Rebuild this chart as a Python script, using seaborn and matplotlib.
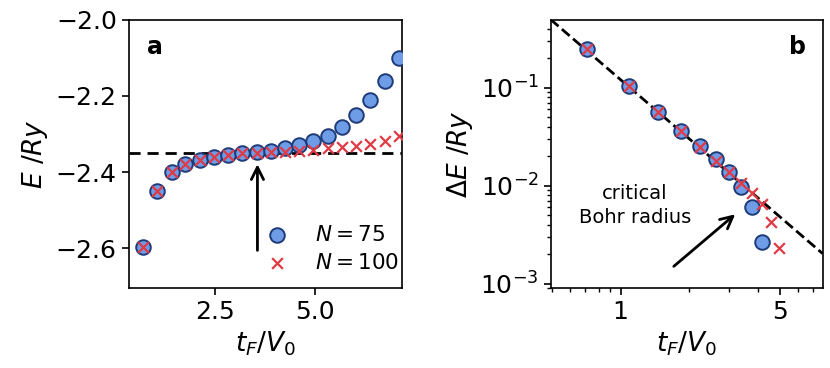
import numpy as np
import pandas as pd
import seaborn as sns
import matplotlib.pyplot as plt
from matplotlib.ticker import FixedLocator, FixedFormatter, NullFormatter, LogLocator

# ------------------------------ datos panel a ------------------------------ #
tf_a = [0.68, 1.04, 1.40, 1.75, 2.11, 2.47, 2.82, 3.18, 3.54, 3.90,
        4.25, 4.61, 4.97, 5.33, 5.68, 6.04, 6.40, 6.76, 7.12]
e_n75 = [-2.597, -2.449, -2.401, -2.378, -2.367, -2.360, -2.355, -2.351, -2.348, -2.344,
         -2.338, -2.329, -2.319, -2.304, -2.281, -2.250, -2.211, -2.160, -2.101]
e_n100 = [-2.597, -2.449, -2.401, -2.378, -2.367, -2.360, -2.355, -2.351, -2.349, -2.348,
          -2.346, -2.345, -2.342, -2.338, -2.333, -2.331, -2.325, -2.318, -2.305]
e_ref = -2.351

# ------------------------------ datos panel b ------------------------------ #
tf_b75 = [0.714, 1.09, 1.46, 1.84, 2.23, 2.62, 2.98, 3.37, 3.77, 4.18]
de_n75 = [0.249, 0.104, 0.0569, 0.0360, 0.0254, 0.0187, 0.0138, 0.00968, 0.00605, 0.00266]
tf_b100 = [0.714, 1.09, 1.46, 1.84, 2.23, 2.62, 2.98, 3.39, 3.78, 4.18, 4.58, 4.96]
de_n100 = [0.249, 0.104, 0.0569, 0.0360, 0.0245, 0.0180, 0.0138, 0.0107, 0.00843, 0.00646, 0.00427, 0.00233]
ajuste_coef = 0.12   # dE ~ coef * tF^-2
ajuste_pot = -2

# --------------------------------- estilo ---------------------------------- #
AZUL = "#6f9ce6"
BORDE = "#1d3b78"
ROJO = "#e03a45"

sns.set_style("ticks")
plt.rcParams["font.family"] = ["DejaVu Sans"]
plt.rcParams["mathtext.fontset"] = "dejavusans"
# todo en negro (seaborn usa gris oscuro)
for clave in ["text.color", "axes.labelcolor", "xtick.color", "ytick.color", "axes.edgecolor"]:
    plt.rcParams[clave] = "black"

fig = plt.figure(figsize=(8.3, 3.68), dpi=100)
ax_a = fig.add_axes([0.155, 0.217, 0.329, 0.729])
ax_b = fig.add_axes([0.6635, 0.217, 0.3275, 0.729])

# --------------------------------- panel a --------------------------------- #
df_a = pd.DataFrame({"tf": tf_a, "n75": e_n75, "n100": e_n100})
sns.scatterplot(data=df_a, x="tf", y="n75", ax=ax_a, s=110, color=AZUL,
                edgecolor=BORDE, linewidth=1.4, label="$N = 75$", zorder=3)
sns.scatterplot(data=df_a, x="tf", y="n100", ax=ax_a, s=60, color=ROJO, marker="x",
                linewidth=1.6, label="$N = 100$", zorder=4)
ax_a.axhline(e_ref, color="k", ls="--", lw=2, dashes=(4, 2.5), zorder=2)
ax_a.annotate("", xy=(3.56, -2.372), xytext=(3.56, -2.613),
              arrowprops=dict(arrowstyle="->", lw=2, color="k", mutation_scale=22))

ax_a.set_xlim(0.32, 7.19)
ax_a.set_ylim(-2.705, -2.0)
ax_a.set_xticks([2.5, 5.0])
ax_a.set_yticks([-2.0, -2.2, -2.4, -2.6])
ax_a.set_xlabel("$t_F/V_0$", fontsize=19)
ax_a.set_ylabel(r"$E\ /Ry$", fontsize=19)
ax_a.text(0.095, 0.90, "a", transform=ax_a.transAxes, fontsize=17, fontweight="bold",
          ha="center", va="center")
ax_a.legend(loc="lower left", bbox_to_anchor=(0.432, 0.026), frameon=False, fontsize=15.5,
            handletextpad=0.76, labelspacing=0.37, borderaxespad=0, labelcolor="black")

# --------------------------------- panel b --------------------------------- #
df_b75 = pd.DataFrame({"tf": tf_b75, "de": de_n75})
df_b100 = pd.DataFrame({"tf": tf_b100, "de": de_n100})
sns.scatterplot(data=df_b75, x="tf", y="de", ax=ax_b, s=110, color=AZUL,
                edgecolor=BORDE, linewidth=1.4, zorder=3)
sns.scatterplot(data=df_b100, x="tf", y="de", ax=ax_b, s=60, color=ROJO, marker="x",
                linewidth=1.6, zorder=4)

ax_b.set_xscale("log")
ax_b.set_yscale("log")
ax_b.set_xlim(0.493, 7.69)
ax_b.set_ylim(9.0e-4, 0.49)

x_ajuste = np.geomspace(0.493, 7.69, 50)
sns.lineplot(x=x_ajuste, y=ajuste_coef * x_ajuste ** ajuste_pot, ax=ax_b, color="k",
             ls="--", lw=2, dashes=(4, 2.5), zorder=2)

ax_b.annotate("", xy=(3.25, 0.00532), xytext=(1.674, 0.00144),
              arrowprops=dict(arrowstyle="->", lw=2, color="k", mutation_scale=22))
ax_b.text(1.155, 0.0063, "critical\nBohr radius", fontsize=14, ha="center", va="center",
          linespacing=1.3)
ax_b.text(0.909, 0.90, "b", transform=ax_b.transAxes, fontsize=17, fontweight="bold",
          ha="center", va="center")

ax_b.xaxis.set_major_locator(FixedLocator([1, 5]))
ax_b.xaxis.set_major_formatter(FixedFormatter(["1", "5"]))
ax_b.xaxis.set_minor_locator(LogLocator(base=10, subs=np.arange(2, 10)))
ax_b.xaxis.set_minor_formatter(NullFormatter())
ax_b.set_yticks([1e-1, 1e-2, 1e-3])
ax_b.set_xlabel("$t_F/V_0$", fontsize=19)
ax_b.set_ylabel(r"$\Delta E\ /Ry$", fontsize=19)

for ax in (ax_a, ax_b):
    ax.tick_params(axis="both", which="major", labelsize=18, length=5, width=1.2)
    ax.tick_params(axis="both", which="minor", length=3, width=1)
    for sp in ax.spines.values():
        sp.set_linewidth(1.2)

fig.savefig("out.png", dpi=100)
